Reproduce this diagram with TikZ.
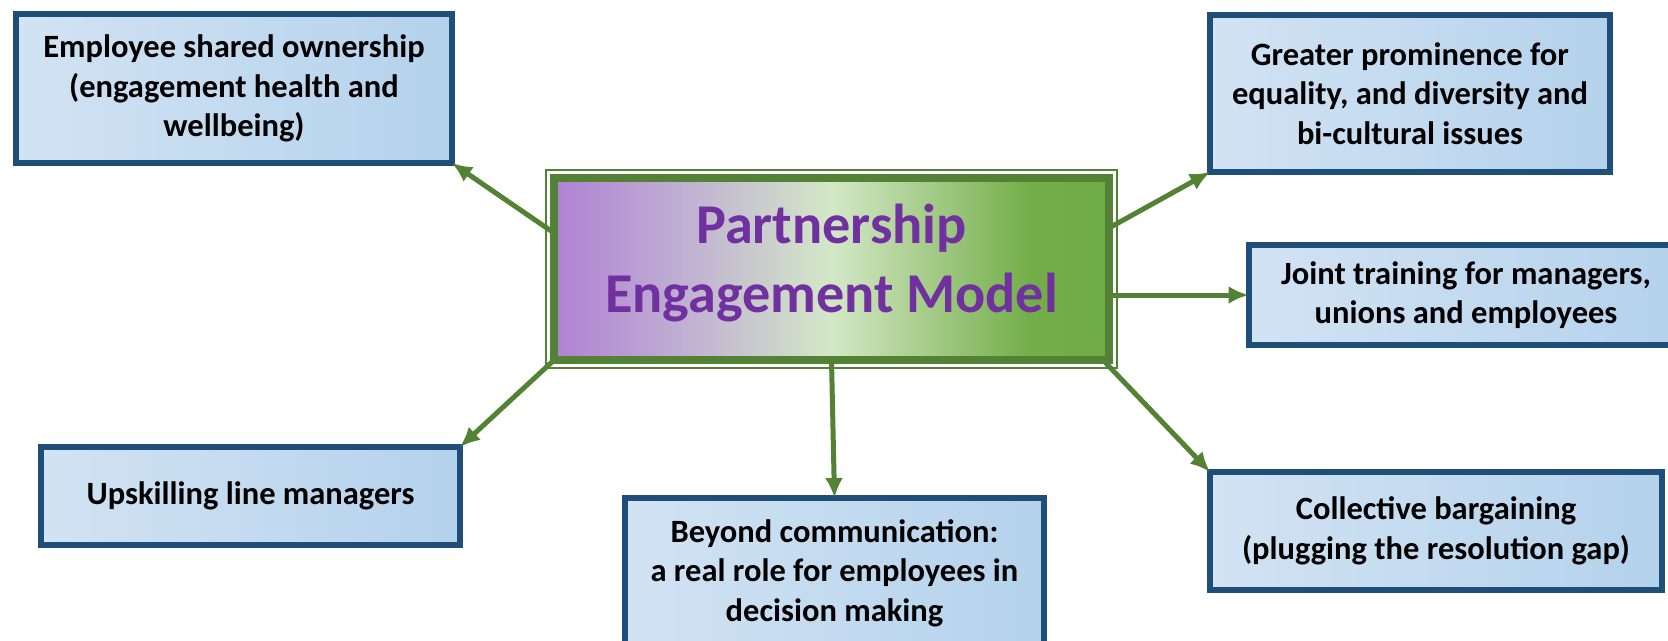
\documentclass[tikz,border=0pt]{standalone}
\usepackage{fontspec}
\usetikzlibrary{arrows.meta}
\setmainfont{Carlito}

\definecolor{boxedge}{HTML}{1F4E79}
\definecolor{boxlight}{HTML}{D2E3F3}
\definecolor{boxdark}{HTML}{B4D2EC}
\definecolor{pemgreen}{HTML}{548235}
\definecolor{pemedge}{HTML}{538135}
\definecolor{pemtext}{HTML}{7030A0}

\pgfdeclarehorizontalshading{pemfill}{100bp}{rgb(0bp)=(0.66,0.45,0.84); rgb(22bp)=(0.67,0.46,0.84); rgb(38bp)=(0.76,0.71,0.82); rgb(50bp)=(0.83,0.91,0.78); rgb(68bp)=(0.45,0.68,0.28); rgb(86bp)=(0.42,0.66,0.26); rgb(100bp)=(0.72,0.84,0.64)}

\tikzset{
  outcome/.style={draw=boxedge, line width=0.12cm, left color=boxlight, right color=boxdark,
    align=center, font=\fontsize{18.5}{22.5}\selectfont\bfseries, inner sep=0pt, outer sep=0pt},
  core/.style={draw=pemedge, line width=0.16cm, shading=pemfill, text=pemtext, text depth=0.42cm,
    align=center, font=\fontsize{32}{39}\selectfont\bfseries, inner sep=0pt, outer sep=0pt},
  link/.style={pemgreen, ->, line width=0.1cm}
}

\begin{document}
\begin{tikzpicture}[x=0.02cm, y=-0.02cm, >={Latex[length=0.4cm,width=0.36cm]}]
  \useasboundingbox (0,0) rectangle (1668,640);

  % central model
  \node[core, minimum width=11.1cm, minimum height=3.64cm] (pem) at (831.5,269) {Partnership\\Engagement Model};
  \draw[pemedge, line width=0.04cm] ([shift={(-8,-8)}]pem.north west) rectangle ([shift={(8,8)}]pem.south east);

  % the six outcomes
  \node[outcome, minimum width=8.72cm, minimum height=2.98cm] (own) at (234,88.5) {Employee shared ownership\\(engagement health and\\wellbeing)};
  \node[outcome, minimum width=8.0cm, minimum height=3.14cm] (prom) at (1410,93.5) {Greater prominence for\\equality, and diversity and\\bi-cultural issues};
  \node[outcome, minimum width=8.7cm, minimum height=2.0cm] (train) at (1466,295) {Joint training for managers,\\unions and employees};
  \node[outcome, minimum width=9.04cm, minimum height=2.36cm] (barg) at (1436,531) {Collective bargaining\\(plugging the resolution gap)};
  \node[outcome, minimum width=8.38cm, minimum height=3.0cm] (dec) at (834.5,573) {Beyond communication:\\a real role for employees in\\decision making};
  \node[outcome, minimum width=8.38cm, minimum height=1.96cm] (upsk) at (250.5,496) {Upskilling line managers};

  % arrows out of the model
  \draw[link] ([yshift=-1.1cm]pem.north west) -- (own.south east);
  \draw[link] ([yshift=-1cm]pem.north east) -- (prom.south west);
  \draw[link] (pem.east |- train.west) -- (train.west);
  \draw[link] ([xshift=-0.12cm]pem.south east) -- (barg.north west);
  \draw[link] (pem.south) -- (dec.north);
  \draw[link] (pem.south west) -- (upsk.north east);
\end{tikzpicture}
\end{document}
